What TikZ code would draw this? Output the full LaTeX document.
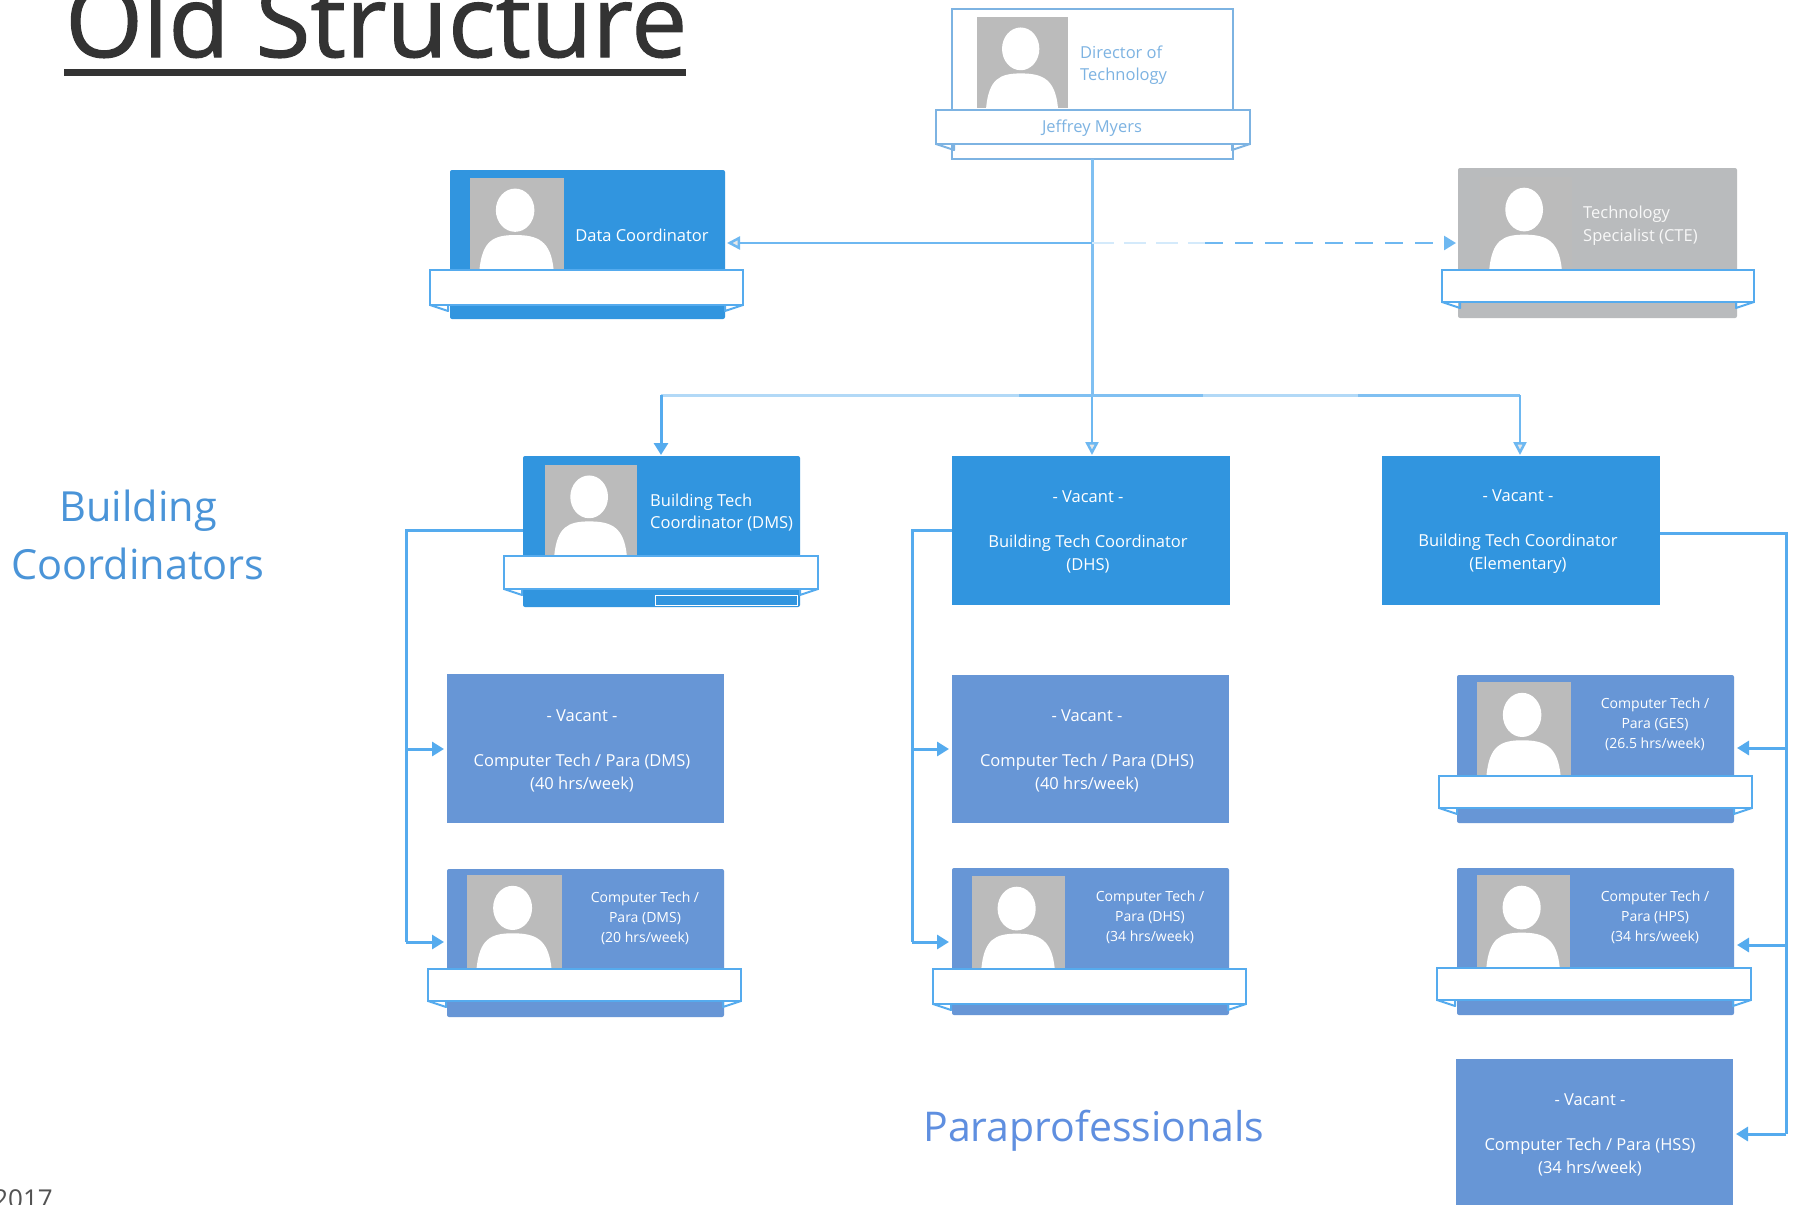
\documentclass[tikz,border=0pt]{standalone}
\usepackage{fontspec}
\setmainfont{Open Sans}
\newfontfamily\titlefont[FakeBold=1.1]{Open Sans}
\usetikzlibrary{arrows.meta}
\definecolor{cardblue}{HTML}{3195DF}
\definecolor{parablue}{HTML}{6796D6}
\definecolor{cardgrey}{HTML}{B9BBBD}
\definecolor{photogrey}{HTML}{BBBBBB}
\definecolor{linkblue}{HTML}{55ABEE}
\definecolor{dirblue}{HTML}{7DB3E2}
\definecolor{headblue}{HTML}{4A94D8}
\definecolor{parahead}{HTML}{5F8FE0}
\definecolor{titlegrey}{HTML}{333333}
\tikzset{
  x=1pt,y=-1pt,
  cardtext/.style={text=white,align=center,inner sep=0pt,font=\fontsize{16.5}{23}\selectfont},
  smalltext/.style={text=white,align=center,inner sep=0pt,font=\fontsize{14}{20}\selectfont},
  headtext/.style={inner sep=0pt,align=center,font=\fontsize{41.5}{58}\selectfont},
  link/.style={draw=linkblue,line width=3pt},
  tiplink/.style={link,-{Triangle[length=12pt,width=14pt]}},
  lightlink/.style={draw=linkblue!75,line width=3pt},
  hollowtip/.style={draw=linkblue!85,line width=2.5pt,-{Triangle[fill=photogrey!35,length=13pt,width=13pt]}},
  palelink/.style={draw=linkblue!45,line width=3pt},
}
\newcommand{\photo}[4]{%
  \fill[photogrey] (#1,#2) rectangle (#3,#4);
  \fill[white] ({#1+(#3-#1)*0.48},{#2+(#4-#2)*0.35}) ellipse [x radius={(#3-#1)*0.205},y radius={(#4-#2)*0.235}];
  \fill[white] ({#1+(#3-#1)*0.10},#4) .. controls ({#1+(#3-#1)*0.13},{#2+(#4-#2)*0.68}) and ({#1+(#3-#1)*0.25},{#2+(#4-#2)*0.62}) .. ({#1+(#3-#1)*0.48},{#2+(#4-#2)*0.62})
    .. controls ({#1+(#3-#1)*0.72},{#2+(#4-#2)*0.62}) and ({#1+(#3-#1)*0.86},{#2+(#4-#2)*0.68}) .. ({#1+(#3-#1)*0.89},#4) -- cycle;
}
% white band with the small folded corners under it
\newcommand{\band}[5]{%
  \draw[fill=white,draw=#5,line width=2.5pt] (#1,#2) rectangle (#3,#4);
  \draw[draw=#5,line width=2pt,line join=round] (#1,#4) -- ({#1+18},{#4+6}) -- ({#1+18},#4);
  \draw[draw=#5,line width=2pt,line join=round] (#3,#4) -- ({#3-18},{#4+6}) -- ({#3-18},#4);
}
\begin{document}
\begin{tikzpicture}
\useasboundingbox (0,0) rectangle (1800,1205);
\clip (0,0) rectangle (1800,1205);
\fill[white] (0,0) rectangle (1800,1205);

% title and side headings
\node[anchor=base west,inner sep=0pt,text=titlegrey,font=\titlefont\fontsize{100}{100}\selectfont] (title) at (65,57) {Old Structure};
\fill[titlegrey] (64,69) rectangle (686,76);
\node[headtext,text=headblue] (building) at (138,535) {Building\\Coordinators};
\node[headtext,font=\fontsize{41}{58}\selectfont,text=parahead] (para) at (1094,1131) {Paraprofessionals};
\node[anchor=base east,inner sep=0pt,text=titlegrey!85,font=\fontsize{26}{30}\selectfont] (year) at (53,1208) {2017};

% director
\draw[draw=dirblue,fill=white,line width=2.5pt] (952,9) rectangle (1233,159);
\photo{977}{17}{1068}{108}
\band{936}{110}{1250}{144}{dirblue}
\node[anchor=west,inner sep=0pt,align=left,text=dirblue,font=\fontsize{16.5}{22}\selectfont] (dirtitle) at (1080,65) {Director of\\Technology};
\node[inner sep=0pt,text=dirblue,font=\fontsize{16.5}{20}\selectfont] (dirname) at (1092,128) {Jeffrey Myers};
\coordinate (dirfoot) at (1092,159);

% data coordinator
\node[inner sep=0pt,minimum width=275pt,minimum height=149pt,fill=cardblue,rounded corners=2pt] (data) at (587.5,244.5) {};
\photo{470}{178}{564}{270}
\band{430}{270}{743}{305}{linkblue}
\node[cardtext,anchor=center] (datat) at (642,235) {Data Coordinator};

% technology specialist
\node[inner sep=0pt,minimum width=279pt,minimum height=150pt,fill=cardgrey,rounded corners=2pt] (spec) at (1597.5,243) {};
\photo{1480}{177}{1572}{270}
\band{1442}{270}{1754}{302}{linkblue}
\node[smalltext,text=white!90!cardgrey,font=\fontsize{16.5}{23}\selectfont,anchor=west,align=left] (spect) at (1583,225.5) {Technology\\Specialist (CTE)};

% building coordinators
\node[inner sep=0pt,minimum width=277pt,minimum height=151pt,fill=cardblue,rounded corners=2pt] (dms) at (661.5,531.5) {};
\photo{545}{465}{637}{556}
\band{504}{556}{818}{589}{linkblue}
\draw[white,line width=1pt] (655,595) rectangle (797,605);
\node[cardtext,anchor=west,align=left,font=\fontsize{16.5}{22}\selectfont] (dmst) at (650,513) {Building Tech\\Coordinator (DMS)};

\node[minimum width=278pt,minimum height=149pt,inner sep=0pt,fill=cardblue] (dhs) at (1091,530.5) {};
\node[cardtext] (dhst) at (1088,532) {- Vacant -\\[22pt]Building Tech Coordinator\\(DHS)};

\node[minimum width=278pt,minimum height=149pt,inner sep=0pt,fill=cardblue] (ele) at (1521,530.5) {};
\node[cardtext] (elet) at (1518,532) {- Vacant -\\[22pt]Building Tech Coordinator\\(Elementary)};

% DMS paraprofessionals
\node[minimum width=277pt,minimum height=149pt,inner sep=0pt,fill=parablue] (pa) at (585.5,748.5) {};
\node[cardtext] (pat) at (582,751) {- Vacant -\\[22pt]Computer Tech / Para (DMS)\\(40 hrs/week)};

\node[minimum width=277pt,minimum height=148pt,inner sep=0pt,fill=parablue,rounded corners=2pt] (pb) at (585.5,943) {};
\photo{467}{875}{562}{969}
\band{428}{969}{741}{1001}{linkblue}
\node[smalltext] (pbt) at (645,918) {Computer Tech /\\Para (DMS)\\(20 hrs/week)};

% DHS paraprofessionals
\node[minimum width=277pt,minimum height=148pt,inner sep=0pt,fill=parablue] (pc) at (1090.5,749) {};
\node[cardtext] (pct) at (1087,751) {- Vacant -\\[22pt]Computer Tech / Para (DHS)\\(40 hrs/week)};

\node[minimum width=277pt,minimum height=147pt,inner sep=0pt,fill=parablue,rounded corners=2pt] (pd) at (1090.5,941.5) {};
\photo{972}{876}{1065}{969}
\band{933}{969}{1246}{1004}{linkblue}
\node[smalltext] (pdt) at (1150,917) {Computer Tech /\\Para (DHS)\\(34 hrs/week)};

% Elementary paraprofessionals
\node[minimum width=277pt,minimum height=148pt,inner sep=0pt,fill=parablue,rounded corners=2pt] (pe) at (1595.5,749) {};
\photo{1477}{682}{1571}{776}
\band{1439}{776}{1752}{808}{linkblue}
\node[smalltext] (pet) at (1655,724) {Computer Tech /\\Para (GES)\\(26.5 hrs/week)};

\node[minimum width=277pt,minimum height=147pt,inner sep=0pt,fill=parablue,rounded corners=2pt] (pf) at (1595.5,941.5) {};
\photo{1477}{875}{1570}{968}
\band{1437}{968}{1751}{1000}{linkblue}
\node[smalltext] (pft) at (1655,917) {Computer Tech /\\Para (HPS)\\(34 hrs/week)};

\node[minimum width=277pt,minimum height=149pt,inner sep=0pt,fill=parablue] (pg) at (1594.5,1133.5) {};
\node[cardtext] (pgt) at (1590,1134.5) {- Vacant -\\[22pt]Computer Tech / Para (HSS)\\(34 hrs/week)};

% connectors from the director
\coordinate (trunkmid) at (1092,243);
\coordinate (trunkbus) at (1092,395);
\coordinate (dataend) at (727,243);
\coordinate (specend) at (1456,243);
\coordinate (fadeend) at (1205,243);
\coordinate (busl) at (661,395);
\coordinate (busr) at (1520,395);
\coordinate (busa) at (1019,395);
\coordinate (busb) at (1203,395);
\coordinate (busc) at (1358,395);
\coordinate (dhsend) at (1092,455);
\coordinate (dmsend) at (661,455);
\coordinate (eleend) at (1520,455);
\draw[lightlink] (dirfoot) -- (trunkbus);
\draw[hollowtip] (trunkbus) -- (dhsend);
\draw[hollowtip] (trunkmid) -- (dataend);
\draw[draw=linkblue!25,line width=2.5pt,dash pattern=on 22pt off 10pt] (trunkmid) -- (fadeend);
\draw[tiplink,draw=linkblue!85,line width=2.5pt,dash pattern=on 18pt off 12pt] (fadeend) -- (specend);
\draw[palelink] (busl) -- (busa);
\draw[lightlink] (busa) -- (busb);
\draw[palelink] (busb) -- (busc);
\draw[lightlink] (busc) -- (busr);
\draw[tiplink] (busl) -- (dmsend);
\draw[hollowtip] (busr) -- (eleend);

% left trunk
\coordinate (ta) at (406,530);
\coordinate (tb) at (406,749);
\coordinate (tc) at (406,942);
\coordinate (pain) at (444,749);
\coordinate (pbin) at (444,942);
\draw[link] (dms.west |- ta) -- (ta) -- (tc);
\draw[tiplink] (tb) -- (pain);
\draw[tiplink] (tc) -- (pbin);

% middle trunk
\coordinate (ma) at (912,530);
\coordinate (mb) at (912,749);
\coordinate (mc) at (912,942);
\coordinate (pcin) at (949,749);
\coordinate (pdin) at (949,942);
\draw[link] (dhs.west |- ma) -- (ma) -- (mc);
\draw[tiplink] (mb) -- (pcin);
\draw[tiplink] (mc) -- (pdin);

% right trunk
\coordinate (ra) at (1786,533);
\coordinate (rb) at (1786,748);
\coordinate (rc) at (1786,945);
\coordinate (rd) at (1786,1134);
\coordinate (pein) at (1737,748);
\coordinate (pfin) at (1737,945);
\coordinate (pgin) at (1736,1134);
\draw[link] (ele.east |- ra) -- (ra) -- (rd);
\draw[tiplink] (rb) -- (pein);
\draw[tiplink] (rc) -- (pfin);
\draw[tiplink] (rd) -- (pgin);
\end{tikzpicture}
\end{document}
